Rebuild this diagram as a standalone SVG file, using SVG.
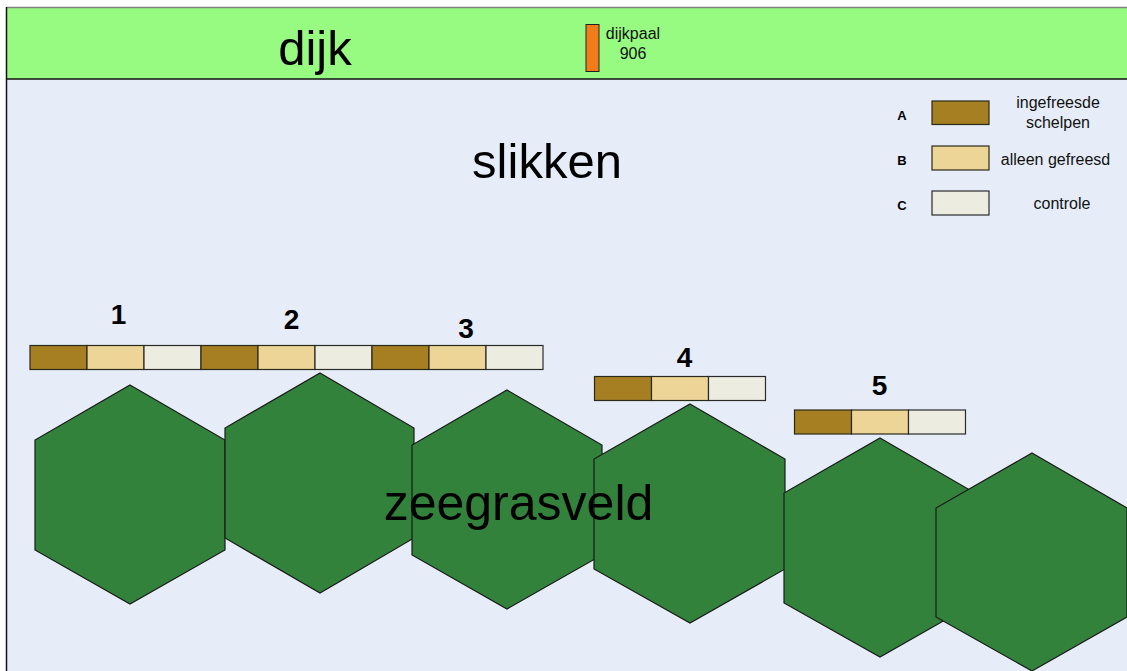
<svg xmlns="http://www.w3.org/2000/svg" width="1127" height="671" viewBox="0 0 1127 671">
<style>
.hex{fill:#33823C;stroke:#1a1a1a;stroke-width:1.2}
.a{fill:#A57F22;stroke:#2a2a1a;stroke-width:1.2}
.b{fill:#EDD497;stroke:#2a2a1a;stroke-width:1.2}
.c{fill:#ECEDE0;stroke:#2a2a2a;stroke-width:1.2}
.big{font-family:"Liberation Sans",Arial,sans-serif;font-size:49px;fill:#000}
.num{font-family:"Liberation Sans",Arial,sans-serif;font-size:28px;font-weight:bold;fill:#000;text-anchor:middle}
.lbl{font-family:"Liberation Sans",Arial,sans-serif;font-size:16px;fill:#111;text-anchor:middle}
.key{font-family:"Liberation Sans",Arial,sans-serif;font-size:13px;font-weight:bold;fill:#000;text-anchor:middle}
</style>
<rect x="0" y="0" width="1127" height="671" fill="#ffffff"/>
<g id="slikken">
<rect x="6.5" y="79" width="1121" height="592" fill="#E6EDF8"/>
<text class="big" x="547" y="178" text-anchor="middle">slikken</text>
</g>
<g id="dijk">
<rect x="6.5" y="7.5" width="1121" height="71.5" fill="#97FB82"/>
<line x1="6.5" y1="7.5" x2="1127" y2="7.5" stroke="#808080" stroke-width="1.5"/>
<line x1="6.5" y1="79" x2="1127" y2="79" stroke="#111" stroke-width="1.5"/>
<text class="big" x="315" y="65" text-anchor="middle">dijk</text>
</g>
<line x1="6.5" y1="7" x2="6.5" y2="671" stroke="#111" stroke-width="1.5"/>
<g id="dijkpaal">
<rect x="586" y="24.5" width="13" height="47" fill="#F07C1A" stroke="#222" stroke-width="1"/>
<text class="lbl" x="633" y="39">dijkpaal</text>
<text class="lbl" x="633" y="58.5">906</text>
</g>
<g id="legend">
<text class="key" x="902" y="119.5">A</text>
<rect class="a" x="932" y="101" width="57" height="23.5"/>
<text class="lbl" x="1058" y="108">ingefreesde</text>
<text class="lbl" x="1058" y="127.5">schelpen</text>
<text class="key" x="902" y="164.5">B</text>
<rect class="b" x="932" y="146" width="57" height="24"/>
<text class="lbl" x="1055.5" y="164.5">alleen gefreesd</text>
<text class="key" x="902" y="209.5">C</text>
<rect class="c" x="932" y="191" width="57" height="24"/>
<text class="lbl" x="1062" y="209">controle</text>
</g>
<g id="zeegrasveld">
<polygon class="hex" points="130,385 225,440 225,550 130,604 35,550 35,440"/>
<polygon class="hex" points="320,373 414,428 414,538 320,593 225,538 225,428"/>
<polygon class="hex" points="507,390 602,445 602,555 507,609 412,555 412,445"/>
<polygon class="hex" points="690,404 785,459 785,569 690,623 594,569 594,459"/>
<polygon class="hex" points="880,438 975,493 975,603 880,657 784,603 784,493"/>
<polygon class="hex" points="1032,453 1127,508 1127,617 1032,671 936,617 936,508"/>
<text class="big" x="518.5" y="520" text-anchor="middle" style="font-size:50px">zeegrasveld</text>
</g>
<g id="plot1">
<text class="num" x="118.5" y="324">1</text>
<rect class="a" x="30" y="345.5" width="57" height="24"/>
<rect class="b" x="87" y="345.5" width="57" height="24"/>
<rect class="c" x="144" y="345.5" width="57" height="24"/>
</g>
<g id="plot2">
<text class="num" x="291.5" y="328.5">2</text>
<rect class="a" x="201" y="345.5" width="57" height="24"/>
<rect class="b" x="258" y="345.5" width="57" height="24"/>
<rect class="c" x="315" y="345.5" width="57" height="24"/>
</g>
<g id="plot3">
<text class="num" x="466" y="338">3</text>
<rect class="a" x="372" y="345.5" width="57" height="24"/>
<rect class="b" x="429" y="345.5" width="57" height="24"/>
<rect class="c" x="486" y="345.5" width="57" height="24"/>
</g>
<g id="plot4">
<text class="num" x="684.5" y="366.5">4</text>
<rect class="a" x="594.5" y="376.5" width="57" height="24"/>
<rect class="b" x="651.5" y="376.5" width="57" height="24"/>
<rect class="c" x="708.5" y="376.5" width="57" height="24"/>
</g>
<g id="plot5">
<text class="num" x="879.5" y="394.5">5</text>
<rect class="a" x="794.5" y="410" width="57" height="24"/>
<rect class="b" x="851.5" y="410" width="57" height="24"/>
<rect class="c" x="908.5" y="410" width="57" height="24"/>
</g>
<g id="connectors"/>
</svg>
